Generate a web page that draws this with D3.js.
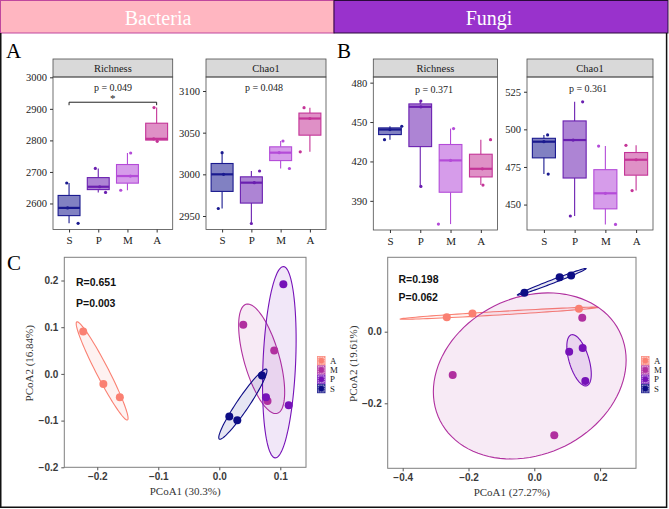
<!DOCTYPE html>
<html><head><meta charset="utf-8">
<script src="https://cdn.jsdelivr.net/npm/d3@7"></script>
<style>body{margin:0;background:#fff}svg{display:block}</style>
</head><body>
<svg id="c" width="669" height="509"></svg>
<script>
// ---------- data ----------
const groups = ["S", "P", "M", "A"];           // boxplot order
const legendGroups = ["A", "M", "P", "S"];     // PCoA legend order
// three replicates per group, order S, P, M, A
const bacRichness = [[2537, 2586, 2665], [2635, 2653, 2711], [2642, 2687, 2760], [2797, 2805, 2904]];
const bacChao1    = [[2959, 3000, 3026], [2941, 2990, 3004], [3007, 3026, 3040], [3027, 3067, 3080]];
const funRichness = [[436.6, 444.3, 446.8], [401, 461.6, 466], [372.3, 420.8, 445], [402, 414.4, 436.6]];
const funChao1    = [[470.3, 491.8, 496.3], [442.4, 492.9, 518.3], [436.8, 457.5, 488.9], [459.3, 479.8, 489.4]];
// jitter of the dots (fraction of a category step)
const bacRichJit = [[0.31, -0.05, -0.08], [0.25, 0.05, -0.10], [-0.23, 0.10, 0.11], [0.02, -0.10, -0.09]];
const bacChaoJit = [[-0.13, 0.05, 0.00], [0.00, 0.10, 0.28], [0.30, -0.05, 0.08], [-0.33, 0.00, -0.20]];
const funRichJit = [[-0.18, 0.00, 0.39], [0.02, 0.02, 0.02], [-0.40, 0.00, 0.10], [0.07, 0.05, 0.32]];
const funChaoJit = [[0.14, 0.00, 0.12], [-0.14, -0.05, 0.26], [0.33, 0.00, -0.22], [-0.13, 0.00, -0.33]];
const pLabels = ["p = 0.049", "p = 0.048", "p = 0.371", "p = 0.361"];
const bacRichTicks = [2600, 2700, 2800, 2900, 3000];
const bacChaoTicks = [2950, 3000, 3050, 3100];
const funRichTicks = [390, 420, 450, 480];
const funChaoTicks = [450, 475, 500, 525];

// PCoA coordinates
const bacGroup = ["A","A","A","M","M","M","P","P","P","S","S","S"];
const bacPC1 = [-0.223, -0.190, -0.163, 0.0393, 0.090, 0.079, 0.105, 0.0765, 0.1137, 0.070, 0.0164, 0.0295];
const bacPC2 = [0.0907, -0.0214, -0.050, 0.105, 0.050, -0.058, 0.192, -0.050, -0.067, -0.0036, -0.0914, -0.0993];
const funGroup = ["A","A","A","M","M","M","P","P","P","S","S","S"];
const funPC1 = [-0.266, -0.188, 0.1356, 0.1457, -0.248, 0.0607, 0.106, 0.147, 0.155, -0.030, 0.077, 0.112];
const funPC2 = [0.040, 0.051, 0.064, 0.039, -0.121, -0.289, -0.056, -0.0456, -0.138, 0.109, 0.152, 0.157];
const bacStats = ["R=0.651", "P=0.003"];
const funStats = ["R=0.198", "P=0.062"];
const bacXTicks = [-0.2, -0.1, 0.0, 0.1];
const bacYTicks = [-0.2, -0.1, 0.0, 0.1, 0.2];
const funXTicks = [-0.4, -0.2, 0.0, 0.2];
const funYTicks = [-0.2, 0.0];

// ---------- styles ----------
const boxCol = {S: "#1a1a8f", P: "#6a1fb0", M: "#b44bd8", A: "#c43497"};
const pcoaCol = {A: "#fa8072", M: "#b0309f", P: "#7612b8", S: "#0d0d85"};
const SERIF = "'Liberation Serif','Times New Roman',serif";
const SANS = "'Liberation Sans',Arial,sans-serif";
const svg = d3.select("#c");
const minus = s => s.replace("-", "\u2212");

// ---------- header & frame ----------
svg.append("rect").attr("x", 0.5).attr("y", 0.5).attr("width", 333.5).attr("height", 32.5)
  .attr("fill", "#ffb6c1").attr("stroke", "#c0479e");
svg.append("rect").attr("x", 334).attr("y", 0.5).attr("width", 334).attr("height", 32.5)
  .attr("fill", "#9932cc").attr("stroke", "#2a0a3a");
svg.append("text").attr("x", 158).attr("y", 25).attr("text-anchor", "middle")
  .attr("font-family", SERIF).attr("font-size", 20).attr("fill", "#fff").text("Bacteria");
svg.append("text").attr("x", 489).attr("y", 25).attr("text-anchor", "middle")
  .attr("font-family", SERIF).attr("font-size", 20).attr("fill", "#fff").text("Fungi");
svg.append("path").attr("d", "M0.75,33 V507.3 H666.6 V33").attr("fill", "none")
  .attr("stroke", "#111").attr("stroke-width", 1.5);

[["A", 6, 58], ["B", 337, 58], ["C", 7, 270]].forEach(([t, x, y]) =>
  svg.append("text").attr("x", x).attr("y", y).attr("font-family", SERIF)
    .attr("font-size", 21).attr("fill", "#000").text(t));

// ---------- boxplot panels ----------
function boxPanel(o) {
  const g = svg.append("g");
  const x = d3.scalePoint().domain(groups).range([o.x0, o.x1]).padding(0.55);
  const y = d3.scaleLinear().domain(o.domain).range([o.y1, o.y0]);
  const bw = x.step() * 0.75;
  // strip
  g.append("rect").attr("x", o.x0).attr("y", o.y0 - 18).attr("width", o.x1 - o.x0).attr("height", 18)
    .attr("fill", "#d9d9d9").attr("stroke", "#4d4d4d").attr("stroke-width", 0.8);
  g.append("text").attr("x", (o.x0 + o.x1) / 2).attr("y", o.y0 - 5.5).attr("text-anchor", "middle")
    .attr("font-family", SERIF).attr("font-size", 10.5).attr("fill", "#1a1a1a").text(o.strip);
  // boxes
  groups.forEach((k, i) => {
    const v = o.data[i].slice().sort(d3.ascending);
    const q1 = d3.quantile(v, 0.25), md = d3.quantile(v, 0.5), q3 = d3.quantile(v, 0.75);
    const cx = x(k), c = boxCol[k];
    g.append("line").attr("x1", cx).attr("x2", cx).attr("y1", y(v[0])).attr("y2", y(q1))
      .attr("stroke", c).attr("stroke-width", 1.1);
    g.append("line").attr("x1", cx).attr("x2", cx).attr("y1", y(q3)).attr("y2", y(v[v.length - 1]))
      .attr("stroke", c).attr("stroke-width", 1.1);
    g.append("rect").attr("x", cx - bw / 2).attr("y", y(q3)).attr("width", bw).attr("height", y(q1) - y(q3))
      .attr("fill", c).attr("fill-opacity", 0.55).attr("stroke", c).attr("stroke-width", 1.1);
    g.append("line").attr("x1", cx - bw / 2).attr("x2", cx + bw / 2).attr("y1", y(md)).attr("y2", y(md))
      .attr("stroke", c).attr("stroke-width", 2.2);
    o.data[i].forEach((val, j) => {
      g.append("circle").attr("cx", cx + o.jit[i][j] * x.step()).attr("cy", y(val)).attr("r", 1.6)
        .attr("fill", c);
    });
  });
  // border
  g.append("rect").attr("x", o.x0).attr("y", o.y0).attr("width", o.x1 - o.x0).attr("height", o.y1 - o.y0)
    .attr("fill", "none").attr("stroke", "#4d4d4d").attr("stroke-width", 0.8);
  // axes
  const ya = g.append("g").attr("transform", `translate(${o.x0},0)`)
    .call(d3.axisLeft(y).tickValues(o.ticks).tickSize(3).tickPadding(3).tickFormat(d3.format("d")));
  const xa = g.append("g").attr("transform", `translate(0,${o.y1})`)
    .call(d3.axisBottom(x).tickSize(3).tickPadding(4));
  [ya, xa].forEach(a => {
    a.select(".domain").remove();
    a.selectAll(".tick line").attr("stroke", "#333");
    a.selectAll("text").attr("font-family", SERIF).attr("font-size", 10.5).attr("fill", "#222");
  });
  xa.selectAll("text").attr("font-size", 11);
  // p-value
  g.append("text").attr("x", o.px).attr("y", o.py).attr("text-anchor", "middle")
    .attr("font-family", SERIF).attr("font-size", 10).attr("fill", "#222").text(o.p);
  if (o.bracket) {
    const [a, b, lv] = o.bracket;
    const yb = y(lv);
    g.append("path").attr("d", `M${x(a)},${yb + 3}V${yb}H${x(b)}V${yb + 3}`)
      .attr("fill", "none").attr("stroke", "#222").attr("stroke-width", 1);
    g.append("text").attr("x", (x(a) + x(b)) / 2).attr("y", yb - 0.5).attr("text-anchor", "middle")
      .attr("font-family", SERIF).attr("font-size", 11).attr("fill", "#222").text("*");
  }
}

boxPanel({x0: 53, x1: 172.7, y0: 77, y1: 229.5, domain: [2517.5, 3001], ticks: bacRichTicks,
  data: bacRichness, jit: bacRichJit, strip: "Richness", p: pLabels[0], px: 113, py: 91,
  bracket: ["S", "A", 2921]});
boxPanel({x0: 206, x1: 326, y0: 77, y1: 229.5, domain: [2933.8, 3116.8], ticks: bacChaoTicks,
  data: bacChao1, jit: bacChaoJit, strip: "Chao1", p: pLabels[1], px: 264, py: 90.5});
boxPanel({x0: 373.3, x1: 497.5, y0: 77, y1: 230, domain: [367.8, 484.3], ticks: funRichTicks,
  data: funRichness, jit: funRichJit, strip: "Richness", p: pLabels[2], px: 434, py: 92.5});
boxPanel({x0: 527, x1: 653, y0: 77, y1: 230, domain: [433.1, 534.8], ticks: funChaoTicks,
  data: funChao1, jit: funChaoJit, strip: "Chao1", p: pLabels[3], px: 588, py: 92});

// ---------- PCoA panels ----------
function ellipsePts(pts, level) {
  const n = pts.length, mx = d3.mean(pts, d => d[0]), my = d3.mean(pts, d => d[1]);
  let sxx = 0, syy = 0, sxy = 0;
  pts.forEach(([a, b]) => { sxx += (a - mx) ** 2; syy += (b - my) ** 2; sxy += (a - mx) * (b - my); });
  sxx /= n - 1; syy /= n - 1; sxy /= n - 1;
  const dfd = n - 1;
  const qf = dfd / 2 * (Math.pow(1 - level, -2 / dfd) - 1);   // F(2, dfd) quantile
  const r = Math.sqrt(2 * qf);
  const a = Math.sqrt(sxx), b = sxy / a, c = Math.sqrt(Math.max(syy - b * b, 0));
  return d3.range(0, 101).map(i => {
    const t = i / 100 * 2 * Math.PI;
    return [mx + r * Math.cos(t) * a, my + r * (Math.cos(t) * b + Math.sin(t) * c)];
  });
}

function pcoaPanel(o) {
  const g = svg.append("g");
  const x = d3.scaleLinear().domain(o.xd).range([o.x0, o.x1]);
  const y = d3.scaleLinear().domain(o.yd).range([o.y1, o.y0]);
  const line = d3.line().x(d => x(d[0])).y(d => y(d[1]));
  legendGroups.forEach(k => {
    const pts = o.pc1.map((v, i) => [v, o.pc2[i], o.grp[i]]).filter(d => d[2] === k);
    g.append("path").attr("d", line(ellipsePts(pts, 0.5)) + "Z")
      .attr("fill", pcoaCol[k]).attr("fill-opacity", 0.1)
      .attr("stroke", pcoaCol[k]).attr("stroke-width", 1.1);
  });
  o.pc1.forEach((v, i) => {
    g.append("circle").attr("cx", x(v)).attr("cy", y(o.pc2[i])).attr("r", 4)
      .attr("fill", pcoaCol[o.grp[i]]);
  });
  g.append("rect").attr("x", o.x0).attr("y", o.y0).attr("width", o.x1 - o.x0).attr("height", o.y1 - o.y0)
    .attr("fill", "none").attr("stroke", "#7f7f7f").attr("stroke-width", 1);
  const fmt = v => minus(d3.format(".1f")(v));
  const xa = g.append("g").attr("transform", `translate(0,${o.y1})`)
    .call(d3.axisBottom(x).tickValues(o.xt).tickSize(3).tickPadding(3).tickFormat(fmt));
  const ya = g.append("g").attr("transform", `translate(${o.x0},0)`)
    .call(d3.axisLeft(y).tickValues(o.yt).tickSize(3).tickPadding(3).tickFormat(fmt));
  [xa, ya].forEach(a => {
    a.select(".domain").remove();
    a.selectAll(".tick line").attr("stroke", "#555");
    a.selectAll("text").attr("font-family", SANS).attr("font-weight", "bold")
      .attr("font-size", 10).attr("fill", "#3a3a3a");
  });
  g.append("text").attr("x", (o.x0 + o.x1) / 2).attr("y", o.y1 + 28).attr("text-anchor", "middle")
    .attr("font-family", SERIF).attr("font-size", 11).attr("fill", "#333").text(o.xt_title);
  g.append("text").attr("transform", `translate(${o.ytx},${(o.y0 + o.y1) / 2 + 1}) rotate(-90)`)
    .attr("text-anchor", "middle").attr("font-family", SERIF).attr("font-size", 11)
    .attr("fill", "#333").text(o.yt_title);
  o.stats.forEach((s, i) => {
    g.append("text").attr("x", o.sx).attr("y", o.sy[i]).attr("font-family", SANS)
      .attr("font-weight", "bold").attr("font-size", 10.5).attr("fill", "#111").text(s);
  });
  // legend
  const ks = 9.3;
  legendGroups.forEach((k, i) => {
    const ky = o.ly + i * ks;
    g.append("rect").attr("x", o.lx).attr("y", ky).attr("width", 8.5).attr("height", ks)
      .attr("fill", pcoaCol[k]).attr("fill-opacity", 0.85);
    g.append("rect").attr("x", o.lx + 1.3).attr("y", ky + 1.3).attr("width", 5.9).attr("height", ks - 2.6)
      .attr("fill", "none").attr("stroke", "#fff").attr("stroke-width", 0.6).attr("stroke-dasharray", "1.2,1");
    g.append("circle").attr("cx", o.lx + 4.25).attr("cy", ky + ks / 2).attr("r", 2.6).attr("fill", pcoaCol[k]);
    g.append("text").attr("x", o.lx + 13).attr("y", ky + ks / 2 + 3).attr("font-family", SERIF)
      .attr("font-size", 8.8).attr("fill", "#222").text(k);
  });
}

pcoaPanel({x0: 64.3, x1: 306, y0: 257.3, y1: 467.3, xd: [-0.254, 0.1421], yd: [-0.2, 0.2497],
  pc1: bacPC1, pc2: bacPC2, grp: bacGroup, xt: bacXTicks, yt: bacYTicks,
  xt_title: "PCoA1 (30.3%)", yt_title: "PCoA2 (16.84%)", ytx: 33, stats: bacStats,
  sx: 76, sy: [285.5, 307], lx: 317, ly: 356});
pcoaPanel({x0: 387.7, x1: 636, y0: 257.3, y1: 468.3, xd: [-0.4456, 0.3091], yd: [-0.3816, 0.2078],
  pc1: funPC1, pc2: funPC2, grp: funGroup, xt: funXTicks, yt: funYTicks,
  xt_title: "PCoA1 (27.27%)", yt_title: "PCoA2 (19.61%)", ytx: 357, stats: funStats,
  sx: 398.5, sy: [283, 301], lx: 641, ly: 356});
</script>
</body></html>
